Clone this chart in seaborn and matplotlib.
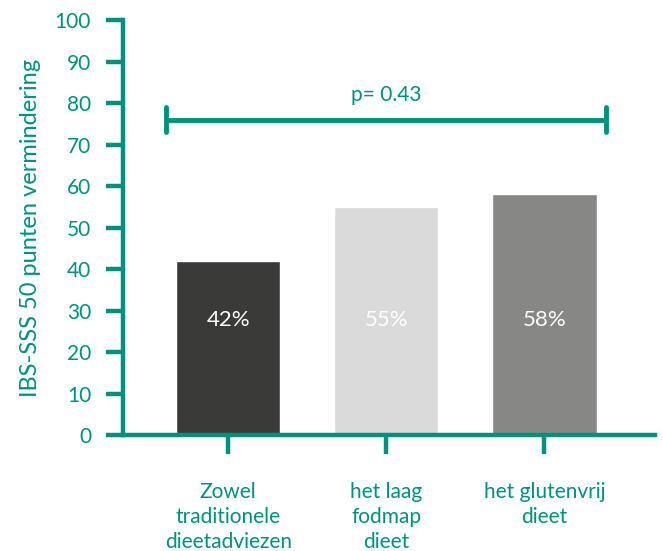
import matplotlib
matplotlib.use("Agg")
import matplotlib.pyplot as plt
import seaborn as sns
import pandas as pd

categories = ["Zowel\ntraditionele\ndieetadviezen", "het laag\nfodmap\ndieet", "het glutenvrij\ndieet"]
values = [42, 55, 58]
bar_colors = ["#3a3a39", "#dadada", "#878786"]
yticks = [0, 10, 20, 30, 40, 50, 60, 70, 80, 90, 100]
p_label = "p= 0.43"
p_level = 76
label_level = 27.7

teal = "#00907e"

sns.set_theme(style="white")
plt.rcParams["font.family"] = ["Lato", "DejaVu Sans"]

df = pd.DataFrame({"groep": categories, "waarde": values})

fig = plt.figure(figsize=(6.63, 5.51), dpi=100)
ax = fig.add_axes([0.1855, 0.2105, 0.8025, 0.753])

sns.barplot(data=df, x="groep", y="waarde", hue="groep", palette=bar_colors,
            width=0.66, saturation=1, legend=False, ax=ax)

for i, v in enumerate(values):
    ax.text(i, label_level, f"{v}%", ha="center", va="center",
            color="white", fontsize=16)

# significance bracket
x0, x1 = -0.39, 2.39
ax.plot([x0, x1], [p_level, p_level], color=teal, lw=3.5, solid_capstyle="butt")
for xe in (x0, x1):
    ax.plot([xe, xe], [p_level - 3, p_level + 3], color=teal, lw=3.5,
            solid_capstyle="round")
ax.text((x0 + x1) / 2, p_level + 3.5, p_label, ha="center", va="bottom",
        color=teal, fontsize=15)

ax.set_xlim(-0.665, 2.70)
ax.set_ylim(0, 100)
ax.set_yticks(yticks)
ax.set_yticklabels([str(t) for t in yticks])

for side in ("top", "right"):
    ax.spines[side].set_visible(False)
for side in ("left", "bottom"):
    ax.spines[side].set_color(teal)
    ax.spines[side].set_linewidth(3.2)

ax.tick_params(axis="y", colors=teal, length=12, width=3.2, pad=11,
               labelsize=15, left=True)
ax.tick_params(axis="x", colors=teal, length=14, width=3.2, pad=20,
               labelsize=15, bottom=True)
for t in ax.get_xticklabels():
    t.set_color(teal)
    t.set_linespacing(1.3)
for line in ax.yaxis.get_ticklines() + ax.xaxis.get_ticklines():
    line.set_solid_capstyle("round")

ax.set_xlabel("")
ax.set_ylabel("IBS-SSS 50 punten vermindering", color=teal, fontsize=17, labelpad=10)

fig.savefig("out.png", dpi=100)
